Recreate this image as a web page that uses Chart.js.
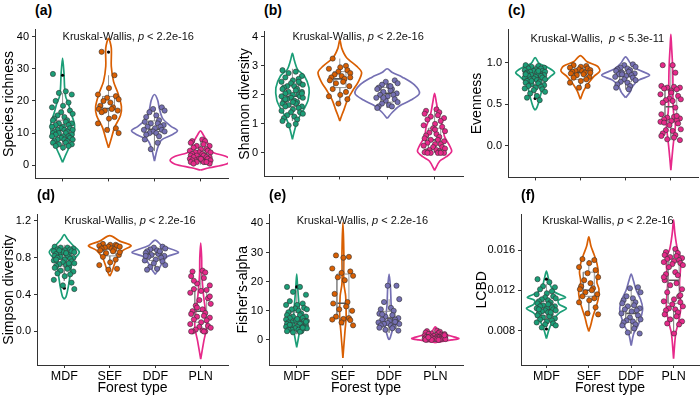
<!DOCTYPE html>
<html>
<head>
<meta charset="utf-8">
<script src="https://cdn.jsdelivr.net/npm/chart.js@4.4.0/dist/chart.umd.min.js"></script>
<style>
  body { margin: 0; background: #fff; }
  #wrap { position: relative; width: 700px; height: 397px; overflow: hidden; font-family: "Liberation Sans", Arial, sans-serif; }
  #wrap canvas { position: absolute; }
  .tag { position: absolute; font-weight: bold; font-size: 14px; line-height: 14px; color: #000; }
</style>
</head>
<body>
<div id="wrap"></div>
<script>
// ---------------------------
//   DATOS
// ---------------------------
const groups = ["MDF", "SEF", "DDF", "PLN"];
const groupColors = ["#1b9e77", "#d95f02", "#7570b3", "#e7298a"];

// (a) Species richness
const richPts = [
  [28.4, 23, 22.5, 22, 20, 19.5, 18.5, 18, 17, 16.5, 16, 15.5, 15, 14.5, 14, 14, 13.5, 13, 13, 12.5, 12.5, 12, 12, 11.5, 11.5, 11, 11, 11, 10.5, 10.5, 10, 10, 10, 9.5, 9.5, 9, 9, 9, 8.5, 8.5, 8, 8, 8, 7.5, 7.5, 7, 7, 6.5, 6.5, 6, 6, 5.5],
  [35.3, 28, 24, 22, 21.5, 21, 20.5, 20, 19.5, 18.5, 18, 17.5, 17.5, 17, 17, 16.5, 15, 14.5, 13, 11.5, 11, 10],
  [18, 17.5, 17, 16.5, 15.5, 15, 14, 13.5, 13, 13, 12.5, 12, 12, 11.5, 11, 11, 10.5, 10.5, 10, 10, 9.5, 9, 8, 7, 5],
  [8, 7.5, 7.5, 7, 6.5, 6, 6, 5.5, 5, 5, 4.5, 4.5, 4, 4, 4, 3.5, 3.5, 3, 3, 3, 3, 2.5, 2.5, 2.5, 2, 2, 2, 2, 1.5, 1.5, 1.5, 1.5, 1, 1, 1, 1, 0.5, 0.5, 1, 2]
];
const richBox = [[4.5, 8, 11, 14, 22.5], [10.2, 17.2, 17.6, 21.4, 28], [4.5, 10.5, 11.2, 13.8, 18], [0.3, 1.6, 2.3, 4.5, 8]];
const richOut = [[28], [35.2], [], []];
const richViolin = [
  [[0.9, 0], [2.6, 0.05], [4.5, 0.11], [6.9, 0.18], [9.7, 0.24], [12.6, 0.26], [16.4, 0.18], [19.5, 0.12], [21.2, 0.07], [24, 0.045], [28.8, 0.03], [33.3, 0]],
  [[5.4, 0], [8.8, 0.07], [11.7, 0.13], [15.5, 0.26], [18.3, 0.28], [22.6, 0.2], [26, 0.11], [30.8, 0.06], [36.5, 0.06], [39.5, 0]],
  [[1.3, 0], [5, 0.06], [7.8, 0.15], [9.3, 0.36], [10.7, 0.5], [12.1, 0.36], [14.5, 0.18], [17.4, 0.11], [20.2, 0.07], [22, 0]],
  [[-1.5, 0], [-0.8, 0.2], [0.3, 0.55], [1.5, 0.66], [2.8, 0.55], [3.8, 0.3], [4.8, 0.2], [6.5, 0.17], [8, 0.12], [9.5, 0.06], [10.7, 0]]
];
const richTicks = [0, 10, 20, 30, 40];
const richTickLabels = ["0", "10", "20", "30", "40"];

// (b) Shannon diversity
const shanPts = [
  [2.85, 2.8, 2.75, 2.65, 2.6, 2.55, 2.5, 2.45, 2.4, 2.4, 2.35, 2.3, 2.3, 2.25, 2.2, 2.2, 2.15, 2.1, 2.1, 2.05, 2.0, 2.0, 1.95, 1.95, 1.9, 1.9, 1.85, 1.8, 1.8, 1.75, 1.7, 1.7, 1.65, 1.6, 1.6, 1.55, 1.5, 1.45, 1.4, 1.4, 1.35, 1.3, 1.25, 1.2, 1.15, 1.1, 1.0, 0.95, 2.05, 1.85, 2.45, 1.75],
  [3.25, 3.0, 2.95, 2.9, 2.85, 2.8, 2.75, 2.7, 2.65, 2.6, 2.55, 2.5, 2.45, 2.4, 2.3, 2.2, 2.1, 2.0, 1.95, 1.85, 1.7, 2.6],
  [2.5, 2.45, 2.4, 2.35, 2.3, 2.25, 2.2, 2.2, 2.15, 2.1, 2.05, 2.0, 2.0, 1.95, 1.9, 1.85, 1.8, 1.75, 1.7, 1.65, 1.6, 1.6, 1.55, 2.3, 1.9],
  [1.5, 1.45, 1.4, 1.35, 1.3, 1.25, 1.2, 1.15, 1.1, 1.0, 0.95, 0.9, 0.85, 0.75, 0.7, 0.65, 0.6, 0.55, 0.5, 0.45, 0.45, 0.4, 0.35, 0.3, 0.3, 0.25, 0.2, 0.2, 0.15, 0.1, 0.1, 0.05, 0.05, 0.02, 0.0, 0.0, 0.0, 0.0, 0.0, 0.8]
];
const shanBox = [[1.1, 1.6, 1.95, 2.3, 2.9], [1.7, 2.25, 2.55, 2.8, 3.25], [1.55, 1.75, 2.05, 2.25, 2.5], [0, 0.15, 0.45, 0.85, 1.5]];
const shanOut = [[], [], [], []];
const shanViolin = [
  [[0.47, 0], [0.87, 0.06], [1.19, 0.13], [1.5, 0.24], [1.82, 0.33], [2.24, 0.35], [2.66, 0.25], [2.87, 0.11], [3.19, 0.04], [3.43, 0]],
  [[1.1, 0], [1.29, 0.04], [1.5, 0.09], [1.82, 0.16], [2.14, 0.27], [2.45, 0.39], [2.77, 0.46], [2.98, 0.36], [3.29, 0.14], [3.61, 0.04], [3.9, 0]],
  [[1.19, 0], [1.4, 0.11], [1.61, 0.25], [1.82, 0.5], [2.05, 0.68], [2.35, 0.57], [2.61, 0.32], [2.77, 0.11], [2.9, 0]],
  [[-0.6, 0], [-0.28, 0.11], [-0.13, 0.25], [0.05, 0.36], [0.24, 0.32], [0.56, 0.21], [0.87, 0.18], [1.29, 0.09], [1.72, 0.04], [2.05, 0]]
];
const shanTicks = [0, 1, 2, 3, 4];
const shanTickLabels = ["0", "1", "2", "3", "4"];

// (c) Evenness
const evenPts = [
  [0.97, 0.96, 0.95, 0.94, 0.93, 0.93, 0.92, 0.91, 0.9, 0.9, 0.89, 0.89, 0.88, 0.88, 0.87, 0.87, 0.86, 0.85, 0.85, 0.84, 0.84, 0.83, 0.82, 0.82, 0.81, 0.8, 0.8, 0.79, 0.78, 0.77, 0.76, 0.75, 0.74, 0.73, 0.72, 0.71, 0.7, 0.69, 0.68, 0.67, 0.65, 0.63, 0.6, 0.58, 0.55, 0.86, 0.9, 0.78],
  [0.97, 0.96, 0.95, 0.94, 0.93, 0.92, 0.91, 0.9, 0.9, 0.89, 0.88, 0.87, 0.86, 0.85, 0.83, 0.82, 0.8, 0.78, 0.76, 0.72, 0.7, 0.88],
  [0.98, 0.97, 0.95, 0.94, 0.93, 0.92, 0.91, 0.9, 0.89, 0.88, 0.87, 0.86, 0.85, 0.84, 0.83, 0.82, 0.8, 0.79, 0.77, 0.76, 0.74, 0.72, 0.7, 0.68, 0.86],
  [0.97, 0.97, 0.88, 0.72, 0.71, 0.7, 0.7, 0.69, 0.68, 0.66, 0.62, 0.6, 0.57, 0.56, 0.55, 0.54, 0.52, 0.46, 0.38, 0.35, 0.34, 0.33, 0.32, 0.31, 0.3, 0.29, 0.27, 0.25, 0.2, 0.19, 0.18, 0.15, 0.13, 0.12, 0.1, 0.08, 0.07, 0.28, 0.36, 0.64]
];
const evenBox = [[0.6, 0.74, 0.82, 0.89, 0.97], [0.7, 0.8, 0.88, 0.92, 0.97], [0.68, 0.77, 0.84, 0.89, 0.97], [0.07, 0.29, 0.47, 0.7, 0.97]];
const evenOut = [[0.57], [], [], []];
const evenViolin = [
  [[0.43, 0], [0.45, 0.03], [0.51, 0.07], [0.63, 0.13], [0.74, 0.18], [0.83, 0.33], [0.88, 0.43], [0.94, 0.29], [0.99, 0.09], [1.06, 0]],
  [[0.56, 0], [0.66, 0.07], [0.74, 0.16], [0.83, 0.29], [0.9, 0.43], [0.96, 0.37], [1.01, 0.15], [1.085, 0]],
  [[0.58, 0], [0.64, 0.09], [0.72, 0.16], [0.79, 0.29], [0.85, 0.53], [0.92, 0.26], [0.99, 0.11], [1.07, 0]],
  [[-0.29, 0], [-0.05, 0.04], [0.1, 0.07], [0.25, 0.1], [0.4, 0.06], [0.6, 0.045], [0.8, 0.045], [1.0, 0.035], [1.2, 0.015], [1.34, 0]]
];
const evenTicks = [0, 0.5, 1];
const evenTickLabels = ["0.0", "0.5", "1.0"];

// (d) Simpson diversity
const simpPts = [
  [0.92, 0.91, 0.91, 0.9, 0.89, 0.89, 0.88, 0.87, 0.87, 0.86, 0.86, 0.85, 0.84, 0.84, 0.83, 0.82, 0.82, 0.81, 0.8, 0.8, 0.79, 0.78, 0.77, 0.76, 0.75, 0.74, 0.73, 0.72, 0.71, 0.7, 0.69, 0.68, 0.66, 0.65, 0.63, 0.62, 0.6, 0.56, 0.53, 0.5, 0.46, 0.88, 0.85, 0.78, 0.74],
  [0.95, 0.94, 0.94, 0.93, 0.93, 0.92, 0.92, 0.91, 0.9, 0.9, 0.89, 0.88, 0.87, 0.85, 0.83, 0.81, 0.78, 0.75, 0.72, 0.68, 0.67, 0.86],
  [0.92, 0.91, 0.9, 0.89, 0.88, 0.87, 0.86, 0.85, 0.84, 0.83, 0.82, 0.81, 0.8, 0.78, 0.77, 0.76, 0.74, 0.72, 0.7, 0.68, 0.67, 0.87, 0.82],
  [0.66, 0.65, 0.64, 0.6, 0.58, 0.52, 0.5, 0.46, 0.45, 0.44, 0.42, 0.36, 0.34, 0.3, 0.28, 0.24, 0.22, 0.2, 0.19, 0.17, 0.16, 0.15, 0.13, 0.12, 0.1, 0.08, 0.06, 0.05, 0.04, 0.02, 0.01, 0.0, 0.0, 0.0, 0.0, 0.26, 0.38, 0.55]
];
const simpBox = [[0.55, 0.71, 0.79, 0.86, 0.94], [0.68, 0.82, 0.9, 0.93, 0.95], [0.68, 0.77, 0.84, 0.88, 0.92], [0, 0.1, 0.22, 0.46, 0.66]];
const simpOut = [[0.47], [], [], []];
const simpViolin = [
  [[0.35, 0], [0.38, 0.04], [0.49, 0.09], [0.62, 0.13], [0.76, 0.18], [0.86, 0.33], [0.93, 0.2], [1.0, 0.07], [1.05, 0]],
  [[0.6, 0], [0.64, 0.04], [0.71, 0.09], [0.79, 0.15], [0.88, 0.29], [0.93, 0.47], [0.98, 0.22], [1.04, 0]],
  [[0.62, 0], [0.67, 0.07], [0.74, 0.15], [0.81, 0.26], [0.86, 0.51], [0.93, 0.15], [0.99, 0]],
  [[-0.3, 0], [-0.1, 0.07], [0.05, 0.13], [0.2, 0.11], [0.4, 0.06], [0.62, 0.025], [0.8, 0.02], [0.96, 0]]
];
const simpTicks = [0, 0.4, 0.8, 1.2];
const simpTickLabels = ["0.0", "0.4", "0.8", "1.2"];

// (e) Fisher's-alpha
const fishPts = [
  [18.2, 18.2, 16.5, 15.5, 13.3, 12.5, 12, 12, 11, 10.8, 10.5, 10.5, 10, 9.5, 9, 8.5, 8.5, 8, 8, 7.5, 7.5, 7, 7, 6.5, 6.5, 6.5, 6, 6, 6, 5.5, 5.5, 5.5, 5, 5, 5, 4.5, 4.5, 4.5, 4, 4, 4, 3.5, 3.5, 3.5, 3, 3, 2.8, 2.6, 6.2, 5.2, 4.2, 7.2],
  [29, 28.5, 28.2, 24.5, 23.5, 23, 22, 21.5, 20.5, 15.8, 13, 12.5, 11.5, 10.5, 10, 8, 7.5, 7.2, 7, 6.8, 6, 5],
  [18.6, 18.6, 14, 13, 11, 10.5, 10, 9, 8.5, 8, 7.5, 7, 7, 6.5, 6, 6, 5.8, 5.5, 5.5, 5, 5, 4.5, 4.2, 4, 3.5, 3.2, 8.8, 6.2],
  [3.2, 3, 2.8, 2.5, 2.3, 2.2, 2, 2, 1.8, 1.7, 1.5, 1.5, 1.4, 1.3, 1.2, 1.1, 1, 1, 0.9, 0.8, 0.8, 0.7, 0.6, 0.5, 0.5, 0.4, 0.4, 0.3, 0.3, 0.2, 0.2, 0.1, 0.1, 0.05, 0, 0, 1.6, 0.9]
];
const fishBox = [[2, 4.5, 6.5, 9.5, 17], [5, 7.3, 12.6, 22.6, 28.5], [2.5, 5, 7.5, 9.8, 14], [0, 0.3, 0.8, 1.8, 3.2]];
const fishOut = [[18.2], [], [18.6], []];
const fishViolin = [
  [[-2.5, 0], [0, 0.03], [3, 0.06], [6, 0.07], [10, 0.06], [14, 0.04], [18, 0.02], [22.6, 0]],
  [[-6.2, 0], [-2, 0.02], [3, 0.045], [8, 0.07], [15, 0.06], [19.4, 0.02], [30, 0.02], [40.3, 0]],
  [[0, 0], [1, 0.03], [5, 0.09], [8, 0.07], [12, 0.045], [18, 0.03], [22.6, 0]],
  [[-0.9, 0], [0, 0.36], [0.5, 0.51], [1.5, 0.3], [3, 0.07], [4.5, 0]]
];
const fishTicks = [0, 10, 20, 30, 40];
const fishTickLabels = ["0", "10", "20", "30", "40"];

// (f) LCBD
const lcbdPts = [
  [0.0131, 0.0128, 0.0124, 0.0123, 0.0121, 0.0119, 0.0117, 0.0116, 0.0114, 0.0113, 0.0112, 0.0111, 0.011, 0.0109, 0.0108, 0.0107, 0.0106, 0.0105, 0.0104, 0.0104, 0.0103, 0.0102, 0.0102, 0.0101, 0.01, 0.01, 0.0099, 0.0098, 0.0097, 0.0096, 0.0095, 0.0094, 0.0093, 0.0092, 0.0091, 0.009, 0.0089, 0.0088, 0.0087, 0.0086, 0.0085, 0.0083, 0.0106, 0.0101, 0.0098],
  [0.0151, 0.015, 0.0147, 0.0143, 0.014, 0.0137, 0.0133, 0.013, 0.0127, 0.0124, 0.0122, 0.0121, 0.012, 0.0118, 0.0116, 0.0114, 0.0112, 0.011, 0.0108, 0.0103, 0.0097, 0.0096],
  [0.0123, 0.0122, 0.0118, 0.0114, 0.0112, 0.011, 0.0108, 0.0107, 0.0105, 0.0104, 0.0102, 0.0101, 0.01, 0.0099, 0.0097, 0.0095, 0.0093, 0.0091, 0.009, 0.0089, 0.0088, 0.0086, 0.0085, 0.0082, 0.0078, 0.0077],
  [0.0161, 0.0158, 0.0157, 0.0155, 0.0154, 0.0153, 0.0152, 0.0151, 0.015, 0.0149, 0.0148, 0.0147, 0.0146, 0.0145, 0.0143, 0.0138, 0.0136, 0.0135, 0.013, 0.0127, 0.0125, 0.0121, 0.0118, 0.0114, 0.0111, 0.0109, 0.0108, 0.0106, 0.0104, 0.0102, 0.0101, 0.01, 0.0098, 0.0096, 0.0094, 0.0091, 0.0089, 0.0087, 0.0086, 0.0077, 0.0133, 0.0115]
];
const lcbdBox = [[0.0083, 0.0095, 0.0101, 0.0109, 0.0126], [0.0097, 0.0114, 0.012, 0.0138, 0.015], [0.0077, 0.0088, 0.0097, 0.0104, 0.0123], [0.0077, 0.0107, 0.013, 0.0148, 0.016]];
const lcbdOut = [[0.0131, 0.00815], [], [], []];
const lcbdViolin = [
  [[0.0072, 0], [0.0081, 0.06], [0.0087, 0.12], [0.0093, 0.2], [0.0098, 0.32], [0.0102, 0.47], [0.0106, 0.3], [0.011, 0.28], [0.0113, 0.45], [0.0118, 0.2], [0.0125, 0.09], [0.0133, 0.04], [0.0139, 0]],
  [[0.0079, 0], [0.0086, 0.05], [0.0093, 0.09], [0.0102, 0.16], [0.0111, 0.22], [0.0121, 0.24], [0.0128, 0.19], [0.0138, 0.22], [0.0147, 0.19], [0.0156, 0.12], [0.0164, 0.05], [0.0173, 0]],
  [[0.0065, 0], [0.0077, 0.06], [0.0083, 0.14], [0.0093, 0.23], [0.0102, 0.27], [0.0111, 0.22], [0.012, 0.12], [0.013, 0.05], [0.0136, 0]],
  [[0.0052, 0], [0.0077, 0.05], [0.0089, 0.12], [0.0102, 0.17], [0.0114, 0.16], [0.0127, 0.14], [0.0139, 0.16], [0.0152, 0.17], [0.0161, 0.09], [0.0177, 0.03], [0.019, 0]]
];
const lcbdTicks = [0.008, 0.012, 0.016];
const lcbdTickLabels = ["0.008", "0.012", "0.016"];

// ---------------------------
//   ESTILO / LAYOUT
// ---------------------------
const FONT = '"Liberation Sans", Arial, sans-serif';
const jitter = [-0.21, 0.07, -0.08, 0.2, -0.15, 0.13, 0.01, -0.23, 0.16, -0.03, 0.22, -0.11, 0.04, -0.18, 0.1];

const panels = [
  { tag: "(a)", title: "Species richness", pts: richPts, box: richBox, out: richOut, vio: richViolin, ticks: richTicks, tickLabels: richTickLabels,
    ymin: -4.1, ymax: 42.2, left: 1, axisX: 35, right: 228, top: 20, bottom: 182, row: 0, kwX: 1, kwY: 40, kwP: " < 2.2e-16", kwPre: "Kruskal-Wallis, " },
  { tag: "(b)", title: "Shannon diversity", pts: shanPts, box: shanBox, out: shanOut, vio: shanViolin, ticks: shanTicks, tickLabels: shanTickLabels,
    ymin: -0.81, ymax: 4.18, left: 237, axisX: 264, right: 463, top: 22, bottom: 180, row: 0, kwX: 1, kwY: 4, kwP: " < 2.2e-16", kwPre: "Kruskal-Wallis, " },
  { tag: "(c)", title: "Evenness", pts: evenPts, box: evenBox, out: evenOut, vio: evenViolin, ticks: evenTicks, tickLabels: evenTickLabels,
    ymin: -0.378, ymax: 1.397, left: 469, axisX: 508, right: 698, top: 20, bottom: 181, row: 0, kwX: 0.9, kwY: 1.29, kwP: " < 5.3e-11", kwPre: "Kruskal-Wallis,  " },
  { tag: "(d)", title: "Simpson diversity", pts: simpPts, box: simpBox, out: simpOut, vio: simpViolin, ticks: simpTicks, tickLabels: simpTickLabels,
    ymin: -0.364, ymax: 1.268, left: 1, axisX: 37, right: 228, top: 205, bottom: 365, row: 1, kwX: 1, kwY: 1.2, kwP: " < 2.2e-16", kwPre: "Kruskal-Wallis, " },
  { tag: "(e)", title: "Fisher's-alpha", pts: fishPts, box: fishBox, out: fishOut, vio: fishViolin, ticks: fishTicks, tickLabels: fishTickLabels,
    ymin: -8.6, ymax: 43, left: 235, axisX: 269, right: 463, top: 205, bottom: 365, row: 1, kwX: 1, kwY: 40.8, kwP: " < 2.2e-16", kwPre: "Kruskal-Wallis, " },
  { tag: "(f)", title: "LCBD", pts: lcbdPts, box: lcbdBox, out: lcbdOut, vio: lcbdViolin, ticks: lcbdTicks, tickLabels: lcbdTickLabels,
    ymin: 0.00457, ymax: 0.01952, left: 474, axisX: 521, right: 699, top: 205, bottom: 365, row: 1, kwX: 0.9, kwY: 0.0189, kwP: " < 2.2e-16", kwPre: "Kruskal-Wallis, " }
];

Chart.defaults.font.family = FONT;
Chart.defaults.color = "#000";

// Texto Kruskal-Wallis con la p en cursiva
Chart.register({
  id: "kwLabel",
  afterDraw(chart, args, opts) {
    if (!opts || !opts.pre) return;
    const ctx = chart.ctx;
    let x = chart.scales.x.getPixelForValue(opts.x);
    const y = chart.scales.y.getPixelForValue(opts.y);
    ctx.save();
    ctx.textBaseline = "middle";
    ctx.fillStyle = "#111";
    const parts = [[opts.pre, ""], ["p", "italic "], [opts.post, ""]];
    parts.forEach(([t, st]) => {
      ctx.font = st + "11px " + FONT;
      ctx.fillText(t, x, y);
      x += ctx.measureText(t).width;
    });
    ctx.restore();
  }
});

function buildDatasets(p) {
  const ds = [];
  groups.forEach((g, i) => {
    const c = i + 1;
    // violín
    const v = p.vio[i];
    const path = v.map(([y, w]) => ({ x: c + w, y: y }));
    for (let k = v.length - 2; k >= 0; k--) path.push({ x: c - v[k][1], y: v[k][0] });
    ds.push({ data: path, showLine: true, borderColor: groupColors[i], borderWidth: 1.7, pointRadius: 0, tension: 0.3, order: 4 });
    // caja
    const [lo, q1, med, q3, hi] = p.box[i];
    const bw = 0.13;
    ds.push({ data: [{ x: c - bw, y: q1 }, { x: c + bw, y: q1 }, { x: c + bw, y: q3 }, { x: c - bw, y: q3 }, { x: c - bw, y: q1 },
                     { x: c, y: null }, { x: c, y: q3 }, { x: c, y: hi }, { x: c, y: null }, { x: c, y: q1 }, { x: c, y: lo }],
              showLine: true, spanGaps: false, borderColor: "#8a8a8a", borderWidth: 0.9, pointRadius: 0, tension: 0, order: 3 });
    ds.push({ data: [{ x: c - bw, y: med }, { x: c + bw, y: med }], showLine: true, borderColor: "#555", borderWidth: 1.6, pointRadius: 0, order: 3 });
    // atípicos
    ds.push({ data: p.out[i].map(y => ({ x: c, y: y })), pointRadius: 1.6, pointBackgroundColor: "#000", pointBorderWidth: 0, order: 2 });
    // puntos
    ds.push({ data: p.pts[i].map((y, k) => ({ x: c + jitter[(k + i * 4) % jitter.length], y: y })),
              pointRadius: 2.6, pointBackgroundColor: groupColors[i], pointBorderColor: "#333", pointBorderWidth: 0.6, order: 1 });
  });
  return ds;
}

const wrap = document.getElementById("wrap");

panels.forEach(p => {
  const xH = p.row === 0 ? 6 : 32;
  const canvas = document.createElement("canvas");
  canvas.width = p.right - p.left + 1;
  canvas.height = (p.bottom - p.top) + xH;
  canvas.style.left = p.left + "px";
  canvas.style.top = p.top + "px";
  wrap.appendChild(canvas);

  const tag = document.createElement("div");
  tag.className = "tag";
  tag.textContent = p.tag;
  tag.style.left = p.axisX + "px";
  tag.style.top = (p.row === 0 ? 3 : 188) + "px";
  wrap.appendChild(tag);

  new Chart(canvas.getContext("2d"), {
    type: "scatter",
    data: { datasets: buildDatasets(p) },
    options: {
      responsive: false,
      animation: false,
      events: [],
      layout: { padding: { left: 0, right: 1, top: 0, bottom: 0 }, autoPadding: false },
      plugins: {
        legend: { display: false },
        tooltip: { enabled: false },
        kwLabel: { x: p.kwX, y: p.kwY, pre: p.kwPre, post: p.kwP }
      },
      scales: {
        x: {
          type: "linear", min: 0.4, max: 4.6,
          afterBuildTicks: s => { s.ticks = groups.map((g, i) => ({ value: i + 1 })); },
          afterFit: s => { s.height = xH; },
          ticks: { callback: v => p.row === 1 ? groups[Math.round(v) - 1] : "", font: { size: 12.5 }, color: "#000", padding: 1, maxRotation: 0, autoSkip: false },
          grid: { display: true, drawOnChartArea: false, drawTicks: true, tickLength: 3, tickColor: "#333" },
          border: { display: true, color: "#333", width: 1 },
          title: { display: p.row === 1, text: "Forest type", font: { size: 14 }, color: "#000", padding: 0 }
        },
        y: {
          type: "linear", min: p.ymin, max: p.ymax,
          afterBuildTicks: s => { s.ticks = p.ticks.map(v => ({ value: v })); },
          afterFit: s => { s.width = p.axisX - p.left; },
          ticks: { callback: (v, idx) => p.tickLabels[idx], font: { size: 11 }, color: "#000", padding: 3 },
          grid: { display: true, drawOnChartArea: false, drawTicks: true, tickLength: 3, tickColor: "#333" },
          border: { display: true, color: "#333", width: 1 },
          title: { display: true, text: p.title, font: { size: 14 }, color: "#000", padding: 0 }
        }
      }
    }
  });
});
</script>
</body>
</html>
